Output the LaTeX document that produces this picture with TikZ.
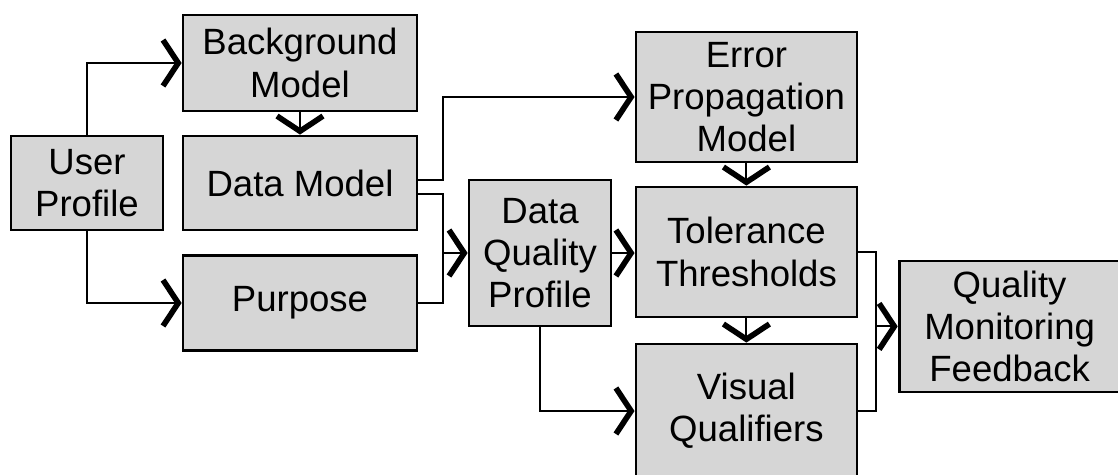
\documentclass[tikz,border=0pt]{standalone}
\usepackage{fontspec}
\setmainfont{Liberation Sans}
\usetikzlibrary{arrows.meta,positioning,calc}

\begin{document}
\begin{tikzpicture}[
    box/.style={rectangle, draw, line width=2pt, fill=black!16, align=center, inner sep=2pt,
                font=\fontsize{26}{30}\selectfont},
    line/.style={line width=1.4pt},
    arr/.style={line, -{Straight Barb[length=0.38cm, width=1.15cm, line width=4pt]}}
]
\clip (0,0) rectangle (27.95,-11.85);

% User side
\node[box, minimum width=3.8cm, minimum height=2.35cm] (user) at (2.175,-4.575) {User\\Profile};
\node[box, minimum width=5.85cm, minimum height=2.4cm] (bg) at (7.5,-1.575) {Background\\Model};
\node[box, minimum width=5.85cm, minimum height=2.35cm] (dm) at (7.5,-4.575) {Data Model};
\node[box, minimum width=5.85cm, minimum height=2.375cm] (purp) at (7.5,-7.575) {Purpose};

% Quality profile
\node[box, minimum width=3.55cm, minimum height=3.65cm] (dqp) at (13.5,-6.325) {Data\\Quality\\Profile};

% Right column
\node[box, minimum width=5.525cm, minimum height=3.25cm] (epm) at (18.66,-2.425) {Error\\Propagation\\Model};
\node[box, minimum width=5.525cm, minimum height=3.25cm] (tol) at (18.66,-6.3) {Tolerance\\Thresholds};
\node[box, minimum width=5.525cm, minimum height=3.35cm] (vis) at (18.66,-10.275) {Visual\\Qualifiers};
\node[box, minimum width=5.525cm, minimum height=3.275cm] (qmf) at (25.24,-8.16) {Quality\\Monitoring\\Feedback};

% Junctions
\coordinate (split) at ($(dm.east)!0.5!(dqp.west)$);
\coordinate (merge) at ($(tol.east)!0.45!(qmf.west)$);

% Arrows
\draw[arr] (user.north) |- (bg.west);
\draw[arr] (user.south) |- (purp.west);
\draw[arr] (bg) -- (dm);
\draw[arr] ([yshift=2pt]dm.east) -| (split |- epm.west) -- (epm.west);
\draw[line] ([yshift=-8pt]dm.east) -| (split |- purp.east) -- (purp.east);
\draw[arr] (split |- dqp.west) -- (dqp.west);
\draw[arr] (dqp.east) -- (dqp.east -| tol.west);
\draw[arr] (epm) -- (tol);
\draw[arr] (tol) -- (vis);
\draw[arr] (dqp.south) |- (vis.west);
\draw[line] (tol.east) -| (merge |- vis.east) -- (vis.east);
\draw[arr] (merge |- qmf.west) -- (qmf.west);
\end{tikzpicture}
\end{document}
